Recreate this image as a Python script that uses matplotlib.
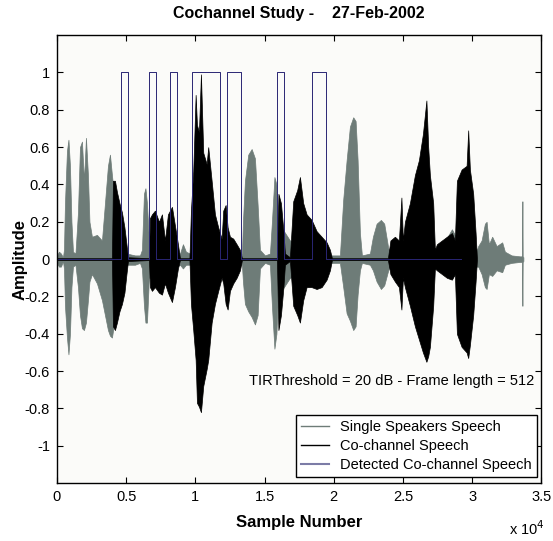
import numpy as np
import matplotlib
matplotlib.use('Agg')
import matplotlib.pyplot as plt
from matplotlib.lines import Line2D
from matplotlib.ticker import FuncFormatter

plt.rcParams['font.family'] = ['Liberation Sans', 'DejaVu Sans']

#%% Data (envelopes of the waveforms, sample index)
gray_x   = [0, 144, 289, 433, 506, 578, 722, 831, 939, 1047, 1156, 1336, 1517, 1662, 1806, 1950,
            2095, 2239, 2348, 2528, 2890, 3251, 3468, 3684, 3829, 3973, 4118, 4551, 5057, 5635,
            5996, 6140, 6285, 6393, 6502, 6646, 7441, 8886, 9102, 9319, 9607, 13364, 13437,
            13581, 13820, 14066, 14304, 14499, 14665, 15026, 15387, 15531, 15712, 15856, 15964,
            16832, 19866, 20444, 20683, 20928, 21166, 21405, 21578, 21723, 21889, 22033, 22611,
            22828, 23095, 23406, 23645, 23934, 24128, 27668, 28535, 28824, 30341, 30435, 30680,
            30919, 31042, 31208, 31446, 31764, 32169, 32364, 32848, 33447, 33600, 33628, 33650,
            33700]
gray_top = [0.02, 0.04, 0.03, 0.01, 0.05, 0.30, 0.58, 0.64, 0.50, 0.20, 0.04, 0.03, 0.25, 0.60,
            0.63, 0.42, 0.65, 0.45, 0.20, 0.12, 0.13, 0.10, 0.30, 0.50, 0.56, 0.45, 0.35, 0.20,
            0.03, 0.02, 0.02, 0.05, 0.35, 0.38, 0.30, 0.10, 0.10, 0.03, 0.08, 0.04, 0.03, 0.03,
            0.20, 0.42, 0.56, 0.59, 0.54, 0.29, 0.05, 0.02, 0.03, 0.20, 0.44, 0.40, 0.20, 0.10,
            0.02, 0.02, 0.32, 0.53, 0.71, 0.76, 0.74, 0.53, 0.14, 0.02, 0.03, 0.12, 0.19, 0.21,
            0.19, 0.06, 0.02, 0.05, 0.16, 0.12, 0.05, 0.07, 0.10, 0.19, 0.20, 0.08, 0.12, 0.07,
            0.09, 0.04, 0.02, 0.015, 0.015, 0.31, 0.015, 0.01]
gray_bot = [-0.02, -0.04, -0.04, -0.01, -0.05, -0.25, -0.42, -0.51, -0.40, -0.15, -0.04, -0.03,
            -0.15, -0.30, -0.37, -0.38, -0.34, -0.22, -0.12, -0.08, -0.13, -0.22, -0.30, -0.38,
            -0.41, -0.42, -0.35, -0.20, -0.03, -0.03, -0.02, -0.05, -0.25, -0.34, -0.34, -0.10,
            -0.10, -0.03, -0.05, -0.03, -0.03, -0.03, -0.12, -0.24, -0.28, -0.31, -0.35, -0.30,
            -0.05, -0.02, -0.03, -0.25, -0.48, -0.40, -0.20, -0.10, -0.02, -0.02, -0.15, -0.29,
            -0.33, -0.38, -0.36, -0.19, -0.06, -0.02, -0.03, -0.06, -0.12, -0.16, -0.14, -0.06,
            -0.02, -0.05, -0.10, -0.08, -0.04, -0.04, -0.08, -0.15, -0.16, -0.08, -0.09, -0.06,
            -0.07, -0.03, -0.02, -0.015, -0.015, -0.25, -0.015, -0.01]

black_x   = [0, 3973, 4045, 4190, 4334, 4515, 4696, 4876, 5021, 5129, 6646, 6719, 6863, 7080,
             7368, 7585, 7802, 8019, 8308, 8524, 8741, 8886, 9572, 9680, 9846, 10020, 10114,
             10258, 10403, 10569, 10814, 10930, 11176, 11414, 11652, 11898, 12014, 12187, 12331,
             12498, 12736, 12982, 13220, 13364, 15893, 16001, 16182, 16362, 16470, 16832, 17070,
             17359, 17554, 17792, 18038, 18399, 18760, 19122, 19483, 19722, 19866, 23911, 24092,
             24417, 24706, 24887, 24995, 25140, 25501, 25862, 26151, 26440, 26692, 26822, 26945,
             27183, 27306, 27451, 27812, 28173, 28535, 28751, 28896, 29235, 29597, 29712, 29835,
             30073, 30247, 30341]
black_top = [0.005, 0.005, 0.42, 0.42, 0.36, 0.30, 0.25, 0.17, 0.08, 0.01, 0.005, 0.22, 0.24,
             0.26, 0.20, 0.24, 0.10, 0.24, 0.28, 0.18, 0.08, 0.005, 0.005, 0.26, 0.47, 0.88,
             0.72, 0.68, 0.99, 0.57, 0.51, 0.60, 0.42, 0.24, 0.17, 0.11, 0.26, 0.29, 0.17, 0.12,
             0.11, 0.08, 0.05, 0.005, 0.005, 0.35, 0.30, 0.15, 0.03, 0.01, 0.31, 0.37, 0.44,
             0.30, 0.24, 0.21, 0.15, 0.12, 0.09, 0.05, 0.005, 0.005, 0.10, 0.12, 0.10, 0.33,
             0.10, 0.20, 0.30, 0.45, 0.53, 0.67, 0.85, 0.60, 0.45, 0.30, 0.05, 0.08, 0.10, 0.12,
             0.14, 0.10, 0.42, 0.48, 0.50, 0.69, 0.48, 0.35, 0.14, 0.005]
black_bot = [-0.005, -0.005, -0.36, -0.38, -0.34, -0.28, -0.24, -0.18, -0.08, -0.01, -0.005,
             -0.15, -0.17, -0.15, -0.18, -0.19, -0.13, -0.18, -0.23, -0.15, -0.05, -0.005,
             -0.005, -0.24, -0.38, -0.54, -0.77, -0.79, -0.82, -0.68, -0.59, -0.54, -0.34,
             -0.24, -0.17, -0.10, -0.13, -0.24, -0.27, -0.17, -0.13, -0.10, -0.06, -0.005,
             -0.005, -0.38, -0.30, -0.15, -0.03, -0.01, -0.25, -0.30, -0.34, -0.22, -0.15,
             -0.15, -0.16, -0.15, -0.11, -0.06, -0.005, -0.005, -0.08, -0.12, -0.15, -0.27,
             -0.10, -0.15, -0.25, -0.36, -0.43, -0.50, -0.55, -0.52, -0.47, -0.25, -0.05, -0.06,
             -0.08, -0.10, -0.11, -0.08, -0.40, -0.47, -0.50, -0.53, -0.46, -0.30, -0.12, -0.005]

# detected co-channel frames (start, end) in samples, frame length = 512
det_on   = [4608, 6656, 8192, 9728, 12288, 15872, 18432]
det_off  = [5120, 7168, 8704, 11776, 13312, 16384, 19456]
det_end  = 29184

xticks   = [0, 5000, 10000, 15000, 20000, 25000, 30000, 35000]
yticks   = [-1, -0.8, -0.6, -0.4, -0.2, 0, 0.2, 0.4, 0.6, 0.8, 1]
labels   = ['Single Speakers Speech', 'Co-channel Speech', 'Detected Co-channel Speech']

#%% Colours
c_gray  = '#6e7c78'
c_black = '#000000'
c_det   = '#2a2674'

# step curve of the detector
det_x, det_y = [0], [0]
for a, b in zip(det_on, det_off):
    det_x += [a, a, b, b]
    det_y += [0, 1, 1, 0]
det_x.append(det_end)
det_y.append(0)

#%% Figure
fig = plt.figure(figsize=(5.53, 5.41), dpi=100)
ax  = fig.add_axes([0.103, 0.107, 0.876, 0.828])
ax.set_facecolor('#fbfbf9')

ax.fill_between(gray_x, gray_bot, gray_top, color=c_gray, lw=0.5)
ax.fill_between(black_x, black_bot, black_top, color=c_black, lw=0.5)
ax.plot(det_x, det_y, color=c_det, lw=0.7)

ax.set_xlim(0, 35000)
ax.set_ylim(-1.2, 1.2)
ax.set_xticks(xticks)
ax.set_yticks(yticks)
ax.xaxis.set_major_formatter(FuncFormatter(lambda v, p: f'{v/1e4:g}'))
ax.yaxis.set_major_formatter(FuncFormatter(lambda v, p: f'{v:g}'))
ax.tick_params(direction='in', length=4, width=0.8, top=True, right=True,
               labelsize=10.5, pad=5)
for sp in ax.spines.values():
    sp.set_linewidth(1.0)

ax.set_title('Cochannel Study -    27-Feb-2002', fontsize=11.5, fontweight='bold', pad=12)
ax.set_xlabel('Sample Number', fontsize=12, fontweight='bold', labelpad=8)
ax.set_ylabel('Amplitude', fontsize=12, fontweight='bold', labelpad=-2)
fig.text(0.92, 0.012, r'x 10$^4$', fontsize=10.5)

ax.text(13870, -0.652, 'TIRThreshold = 20 dB - Frame length = 512', fontsize=10.5, va='center')

handles = [Line2D([], [], color=c_gray, lw=1),
           Line2D([], [], color=c_black, lw=1),
           Line2D([], [], color='#7c7ca6', lw=1.5)]
leg = ax.legend(handles, labels, loc='lower right', bbox_to_anchor=(0.991, 0.013),
                borderaxespad=0, fontsize=10.5, fancybox=False, framealpha=1,
                edgecolor='black', handlelength=1.9, labelspacing=0.35,
                borderpad=0.35, handletextpad=0.8)
leg.get_frame().set_linewidth(1.0)

fig.savefig('out.png', dpi=100)
